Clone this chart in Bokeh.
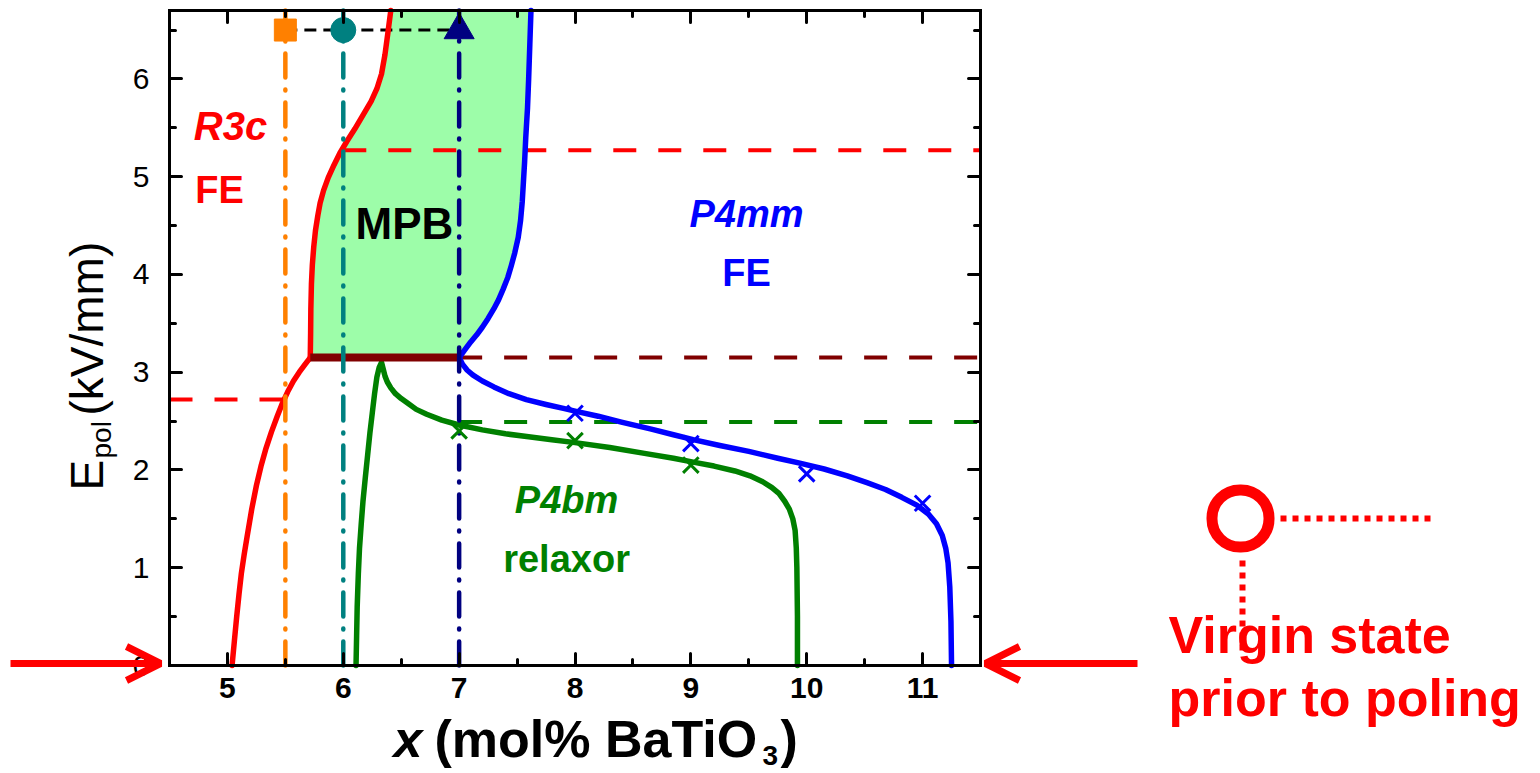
from bokeh.plotting import figure
from bokeh.models import Range1d, LinearAxis, FixedTicker, Label, Arrow, OpenHead, BoxAnnotation
from bokeh.embed import file_html
from bokeh.resources import INLINE

# ---------------- data ----------------
# R3c / MPB boundary (red): lower branch up to the corner, upper branch from the corner
red_lo_x = [5.04, 5.06, 5.08, 5.10, 5.12, 5.145, 5.17, 5.21, 5.25, 5.29, 5.33, 5.38, 5.43, 5.47, 5.52, 5.57, 5.62, 5.67, 5.715]
red_lo_y = [0.00, 0.25, 0.50, 0.73, 0.94, 1.14, 1.32, 1.60, 1.84, 2.04, 2.21, 2.39, 2.55, 2.67, 2.80, 2.91, 3.00, 3.08, 3.15]
red_up_x = [5.715, 5.718, 5.72, 5.725, 5.733, 5.745, 5.76, 5.78, 5.80, 5.83, 5.87, 5.92, 5.97, 6.03, 6.10, 6.17, 6.24, 6.29, 6.33, 6.36, 6.385, 6.41]
red_up_y = [3.15, 3.40, 3.65, 3.90, 4.10, 4.28, 4.45, 4.60, 4.73, 4.86, 4.99, 5.12, 5.24, 5.36, 5.49, 5.63, 5.77, 5.90, 6.05, 6.25, 6.47, 6.70]

# MPB / P4mm boundary (blue)
blue_up_x = [7.00, 7.05, 7.10, 7.15, 7.20, 7.25, 7.30, 7.34, 7.38, 7.42, 7.45, 7.48, 7.51, 7.53, 7.545, 7.555, 7.565, 7.575, 7.59, 7.60, 7.61, 7.62]
blue_up_y = [3.15, 3.23, 3.31, 3.38, 3.46, 3.55, 3.65, 3.74, 3.85, 3.97, 4.09, 4.22, 4.38, 4.55, 4.75, 4.95, 5.15, 5.40, 5.70, 6.00, 6.35, 6.70]
blue_lo_x = [7.00, 7.03, 7.07, 7.12, 7.20, 7.30, 7.43, 7.58, 7.75, 7.90, 8.01, 8.20, 8.40, 8.65, 8.85, 9.02, 9.25, 9.50, 9.75, 9.94,
             10.15, 10.35, 10.52, 10.68, 10.82, 10.95, 11.05, 11.12, 11.17, 11.20, 11.22, 11.235, 11.245, 11.25]
blue_lo_y = [3.15, 3.08, 3.02, 2.97, 2.91, 2.85, 2.78, 2.72, 2.67, 2.63, 2.60, 2.55, 2.49, 2.42, 2.36, 2.31, 2.25, 2.19, 2.12, 2.07,
             2.01, 1.94, 1.87, 1.80, 1.72, 1.64, 1.55, 1.45, 1.33, 1.20, 1.05, 0.80, 0.45, 0.00]

# P4bm relaxor boundary (green)
green_x = [6.11, 6.115, 6.12, 6.13, 6.14, 6.155, 6.17, 6.19, 6.21, 6.23, 6.25, 6.27, 6.29, 6.31, 6.33,
           6.345, 6.36, 6.38, 6.41, 6.45, 6.50, 6.56, 6.63, 6.72, 6.85, 7.00, 7.20, 7.40, 7.60, 7.80, 8.00,
           8.30, 8.60, 8.85, 9.02, 9.20, 9.38, 9.51, 9.62, 9.70, 9.76, 9.81, 9.85, 9.88, 9.90, 9.91, 9.915, 9.92, 9.92]
green_y = [0.00, 0.30, 0.60, 0.94, 1.20, 1.45, 1.68, 1.92, 2.15, 2.38, 2.58, 2.78, 2.95, 3.05, 3.10,
           3.03, 2.96, 2.90, 2.84, 2.78, 2.73, 2.68, 2.62, 2.57, 2.51, 2.46, 2.41, 2.37, 2.34, 2.31, 2.28,
           2.23, 2.17, 2.12, 2.08, 2.04, 1.99, 1.94, 1.88, 1.82, 1.76, 1.68, 1.60, 1.50, 1.38, 1.20, 1.00, 0.50, 0.00]

# measured points (crosses)
blue_pts_x = [8.0, 9.0, 10.0, 11.0]
blue_pts_y = [2.58, 2.27, 1.96, 1.66]
green_pts_x = [7.0, 8.0, 9.0]
green_pts_y = [2.40, 2.30, 2.05]

# field levels
E_mpb = 3.15          # brown horizontal (R3c+P4mm coexistence)
E_red_hi = 5.27       # red dashed upper
E_red_lo = 2.72       # red dashed lower
E_green = 2.49        # green dashed
E_top = 6.5           # composition markers

# compositions studied (vertical dash-dot lines)
comp_x = [5.5, 6.0, 7.0]
comp_colors = ["#FF8000", "#008080", "#000080"]
comp_markers = ["square", "circle", "triangle"]
comp_sizes = [22, 25, 30]

x_major = [5, 6, 7, 8, 9, 10, 11]
x_minor = [5.5, 6.5, 7.5, 8.5, 9.5, 10.5]
y_major = [0, 1, 2, 3, 4, 5, 6]
y_minor = [0.5, 1.5, 2.5, 3.5, 4.5, 5.5, 6.5]

X0, X1 = 4.5, 11.5
Y0, Y1 = 0.0, 6.7

FONT = "Liberation Sans"
RED = "#FF0000"
BLUE = "#0000FF"
GREEN = "#008000"
BROWN = "#800000"

# ---------------- page geometry (pixels) ----------------
W, H = 1540, 773
AX_L, AX_R, AX_T, AX_B = 169, 980, 10, 665      # where the axes box sits on the page
sx = (AX_R - AX_L) / (X1 - X0)
sy = (AX_B - AX_T) / (Y1 - Y0)
XL = X0 - AX_L / sx
XR = X1 + (W - AX_R) / sx
YB = Y0 - (H - AX_B) / sy
YT = Y1 + AX_T / sy

# the frame covers the whole page; the axes are pinned at the box edges
p = figure(width=W, height=H, x_range=Range1d(XL, XR), y_range=Range1d(YB, YT),
           output_backend="svg", toolbar_location=None, min_border=0)
p.grid.visible = False
p.outline_line_color = None
p.background_fill_color = "white"
p.border_fill_color = "white"

xt = FixedTicker(ticks=x_major, minor_ticks=x_minor)
yt = FixedTicker(ticks=y_major, minor_ticks=y_minor)


def style_axis(ax):
    ax.axis_line_width = 3
    ax.axis_line_color = "black"
    ax.axis_line_cap = "square"
    ax.major_tick_in = 12
    ax.major_tick_out = 0
    ax.minor_tick_in = 6
    ax.minor_tick_out = 0
    ax.major_tick_line_width = 3
    ax.minor_tick_line_width = 3
    ax.major_tick_line_cap = "round"
    ax.minor_tick_line_cap = "round"
    ax.major_label_text_font = FONT
    ax.major_label_text_color = "black"


bx = p.below[0]
bx.ticker = xt
bx.fixed_location = Y0
bx.bounds = (X0, X1)
style_axis(bx)
bx.major_label_text_font_size = "30px"
bx.major_label_text_font_style = "bold"
bx.major_label_standoff = 12

ly = p.left[0]
ly.ticker = yt
ly.fixed_location = X0
ly.bounds = (Y0, Y1)
style_axis(ly)
ly.major_label_text_font_size = "30px"
ly.major_label_standoff = 20

# mirror axes on top and right: ticks only, no labels
top_ax = LinearAxis(ticker=xt, fixed_location=Y1, bounds=(X0, X1))
right_ax = LinearAxis(ticker=yt, fixed_location=X1, bounds=(Y0, Y1))
for ax, loc, ticks in ((top_ax, "above", x_major), (right_ax, "right", y_major)):
    style_axis(ax)
    ax.major_label_overrides = {t: "" for t in ticks}
    ax.major_label_standoff = 0
    p.add_layout(ax, loc)

# MPB region fill
p.patch(red_up_x + blue_up_x[::-1], red_up_y + blue_up_y[::-1],
        fill_color="#9DFDA9", line_color=None)

# horizontal dashed levels
p.line([comp_x[1], X1], [E_red_hi, E_red_hi], line_color=RED, line_width=4, line_dash="23 22")
p.line([X0, comp_x[0]], [E_red_lo, E_red_lo], line_color=RED, line_width=4, line_dash="23 22")
p.line([comp_x[2], X1], [E_mpb, E_mpb], line_color=BROWN, line_width=4, line_dash="23 22")
p.line([comp_x[2], X1], [E_green, E_green], line_color=GREEN, line_width=4, line_dash="23 22")
p.line([comp_x[0], comp_x[2]], [E_top, E_top], line_color="black", line_width=3, line_dash="12 7")

# phase boundaries
for xs, ys, col in ((red_lo_x, red_lo_y, RED), (red_up_x, red_up_y, RED),
                    (blue_up_x, blue_up_y, BLUE), (blue_lo_x, blue_lo_y, BLUE),
                    (green_x, green_y, GREEN)):
    p.line(xs, ys, line_color=col, line_width=5.5, line_join="round", line_cap="round")
p.line([red_lo_x[-1], blue_up_x[0]], [E_mpb, E_mpb], line_color=BROWN, line_width=8)

# vertical dash-dot composition lines and top markers
for cx, cc, cm, cs in zip(comp_x, comp_colors, comp_markers, comp_sizes):
    p.line([cx, cx], [Y0, Y1], line_color=cc, line_width=4.5, line_dash="24 12 1 12", line_cap="round")
    p.scatter([cx], [E_top], marker=cm, size=cs, fill_color=cc, line_color=cc)

# measured points
p.scatter(blue_pts_x, blue_pts_y, marker="x", size=22, line_color=BLUE, line_width=3)
p.scatter(green_pts_x, green_pts_y, marker="x", size=22, line_color=GREEN, line_width=3)


def lab(text, x, y, size, color, style="bold", angle=0.0, align="center", baseline="middle", units="data"):
    p.add_layout(Label(x=x, y=y, x_units=units, y_units=units, text=text, text_font=FONT,
                       text_font_size=f"{size}px", text_font_style=style, text_color=color,
                       angle=angle, text_align=align, text_baseline=baseline))


# phase labels (data units)
lab("R3c", 5.027, 5.52, 40, RED, "bold italic")
lab("FE", 4.932, 4.86, 38, RED)
lab("MPB", 6.528, 4.52, 44, "black")
lab("P4mm", 9.48, 4.62, 38, BLUE, "bold italic")
lab("FE", 9.48, 4.01, 38, BLUE)
lab("P4bm", 7.927, 1.69, 38, GREEN, "bold italic")
lab("relaxor", 7.927, 1.09, 38, GREEN)

# page-pixel texts, placed by their baseline
C = "canvas"
BL = 0.385      # observed baseline offset of the renderer, in em


def htext(text, x, base, size, color, style="bold"):
    lab(text, x, base - BL * size, size, color, style, align="left", baseline="alphabetic", units=C)


def vtext(text, base, y, size, color, style="normal"):
    lab(text, base - BL * size, y, size, color, style, angle=1.5708, align="left",
        baseline="alphabetic", units=C)


# axis titles
htext("x", 393, 759, 52, "black", "bold italic")
htext("(mol% BaTiO", 434, 759, 52, "black")
htext("3", 762, 766, 28, "black")
htext(")", 780, 759, 52, "black")

vtext("E", 104, 490, 46, "black")
vtext("pol", 112, 458, 28, "black")
vtext("(kV/mm)", 104, 415, 46, "black")

# arrows marking the virgin (unpoled) state
for xa, xb in ((10, 160), (1137, 985)):
    p.add_layout(Arrow(x_start=xa, y_start=663, x_end=xb, y_end=663, start_units=C, end_units=C,
                       line_color=RED, line_width=7,
                       end=OpenHead(size=34, line_color=RED, line_width=7)))

# circle with dotted leaders
p.add_layout(BoxAnnotation(left=1211.5, right=1268.5, top=489.5, bottom=546.5,
                           left_units=C, right_units=C, top_units=C, bottom_units=C,
                           fill_color="white", fill_alpha=1.0, line_color=RED, line_width=11,
                           line_alpha=1.0, border_radius=28))
p.add_layout(Arrow(x_start=1280, y_start=518, x_end=1430, y_end=518, start_units=C, end_units=C,
                   end=None, line_color=RED, line_width=6, line_dash="6 6"))
p.add_layout(Arrow(x_start=1242, y_start=560, x_end=1242, y_end=650, start_units=C, end_units=C,
                   end=None, line_color=RED, line_width=6, line_dash="6 6"))

htext("Virgin state", 1168, 655, 52, RED)
htext("prior to poling", 1168, 718, 52, RED)

open("out.html", "w").write(file_html(p, INLINE))
